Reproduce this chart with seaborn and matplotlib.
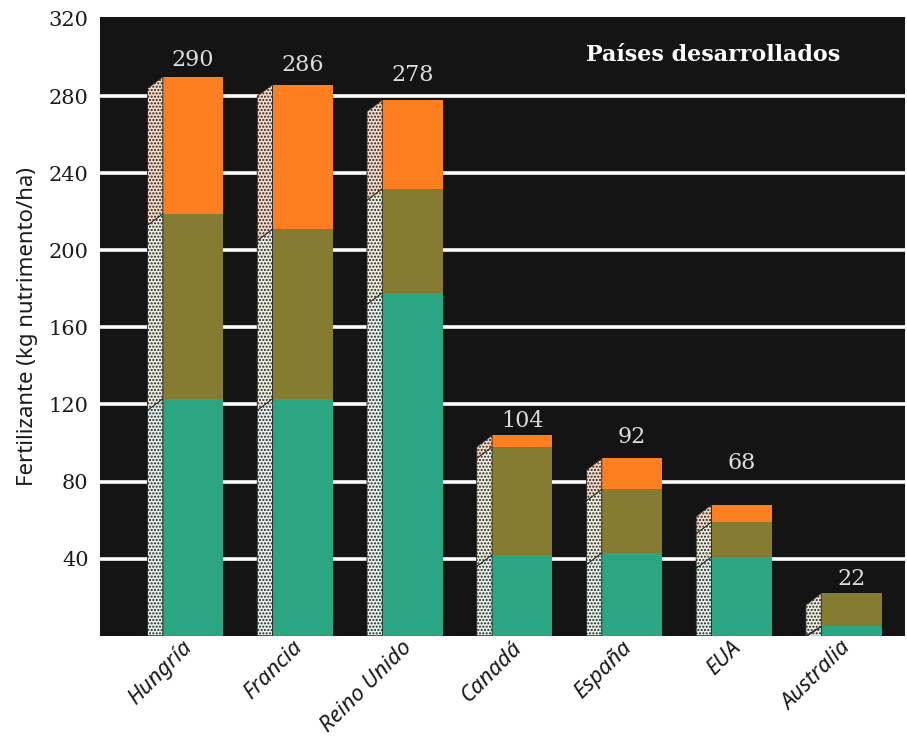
import matplotlib
matplotlib.use("Agg")
import matplotlib.pyplot as plt
import matplotlib.transforms as mtransforms
import numpy as np
import seaborn as sns

# Fertilizer use by country, split into three stacked components (kg nutrient/ha)
countries = ["Hungría", "Francia", "Reino Unido", "Canadá", "España", "EUA", "Australia"]
seg_low = [123, 123, 178, 42, 43, 41, 5]
seg_mid = [96, 88, 54, 56, 33, 18, 17]
seg_top = [71, 75, 46, 6, 16, 9, 0]
y_ticks = [40, 80, 120, 160, 200, 240, 280, 320]

title = "Países desarrollados"
y_label = "Fertilizante (kg nutrimento/ha)"

# styling
c_low, c_mid, c_top = "#2ba682", "#867c31", "#fd7f1f"
side_low, side_mid, side_top = "#e4f1ea", "#eeeedf", "#f6dac6"
bar_w = 0.55
depth_x, depth_y = 0.14, 6.0
label_lift_px = [17, 20, 25, 14, 21, 42, 14]

sns.set_theme(style="dark")
plt.rcParams["hatch.linewidth"] = 1.0
plt.rcParams["hatch.color"] = "#202020"

fig = plt.figure(figsize=(9.07, 7.41), dpi=100)
fig.patch.set_facecolor("white")
ax = fig.add_axes([0.110, 0.142, 0.888, 0.835])
ax.set_facecolor("#141414")

low = np.array(seg_low, float)
mid = np.array(seg_mid, float)
top = np.array(seg_top, float)
cum_mid = low + mid
totals = cum_mid + top

# horizontal white rules (none at the top edge)
for t in y_ticks[:-1]:
    ax.axhline(t, color="white", linewidth=2.6, zorder=1)

# front faces: draw cumulative heights from tallest to shortest
for heights, col in [(totals, c_top), (cum_mid, c_mid), (low, c_low)]:
    sns.barplot(x=countries, y=heights, color=col, saturation=1, width=bar_w,
                linewidth=0, ax=ax, zorder=3)

# left side faces with a stippled texture
for i in range(len(countries)):
    x0 = i - bar_w / 2
    bounds = [0, low[i], cum_mid[i], totals[i]]
    for (a, b), fc in zip(zip(bounds[:-1], bounds[1:]), [side_low, side_mid, side_top]):
        if b - a <= 0:
            continue
        a_back = max(a - depth_y, 0) if a > 0 else 0
        b_back = max(b - depth_y, 0)
        ax.fill([x0 - depth_x, x0, x0, x0 - depth_x],
                [a_back, a, b, b_back],
                facecolor=fc, edgecolor="#202020", linewidth=0.6,
                hatch=".....", zorder=3)

# value labels above each bar
for i, tot in enumerate(totals):
    ax.annotate(f"{int(round(tot))}", xy=(i, tot),
                xytext=(0, label_lift_px[i] * 0.72), textcoords="offset points",
                ha="center", va="center", fontsize=16, color="#dcdcdc",
                family="DejaVu Serif", zorder=5)

ax.text(0.762, 0.939, title, transform=ax.transAxes, ha="center", va="center",
        fontsize=16, fontweight="bold", color="white", family="DejaVu Serif")

ax.set_ylim(0, 321)
ax.set_xlim(-0.85, 6.49)
ax.set_yticks(y_ticks)
ax.set_yticklabels([str(t) for t in y_ticks], family="DejaVu Serif", fontsize=15,
                   color="#1a1a1a")
ax.tick_params(axis="y", length=0, pad=8)
ax.tick_params(axis="x", length=0, pad=1)
ax.set_xticks(range(len(countries)))
ax.set_xticklabels(countries, rotation=45, ha="right", va="top",
                   rotation_mode="anchor", fontsize=16, style="italic",
                   family="Noto Sans", color="#1a1a1a")
shift = mtransforms.ScaledTranslation(-8 / 72, 0, fig.dpi_scale_trans)
for lbl in ax.get_xticklabels():
    lbl.set_transform(lbl.get_transform() + shift)

ax.grid(False)
for s in ax.spines.values():
    s.set_visible(False)

ax.set_xlabel("")
ax.set_ylabel(y_label, family="Noto Sans", fontsize=16, color="#1a1a1a", labelpad=8)

fig.savefig("out.png", dpi=100, facecolor="white")
